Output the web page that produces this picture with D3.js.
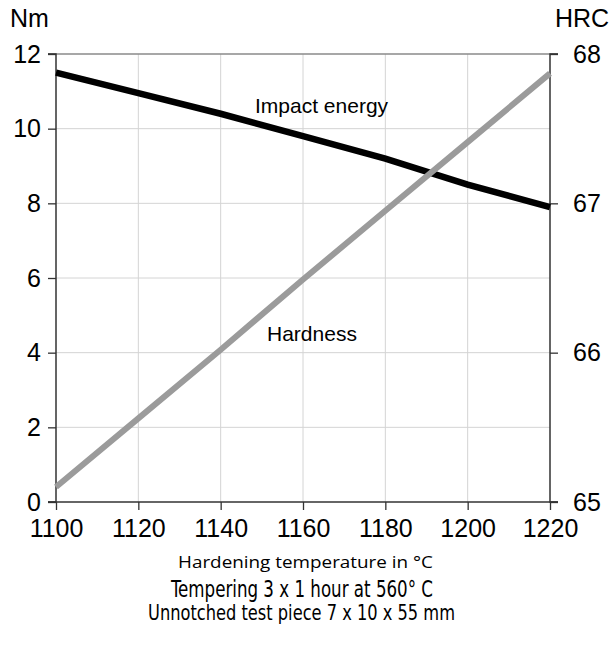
<!DOCTYPE html>
<html>
<head>
<meta charset="utf-8">
<script src="https://cdn.jsdelivr.net/npm/d3@7"></script>
<style>
  html, body { margin: 0; padding: 0; background: #fff; }
  svg text { font-family: "Liberation Sans", Arial, sans-serif; fill: #000; }
  .cond { font-family: "DejaVu Sans Condensed", "DejaVu Sans", sans-serif; font-stretch: condensed; }
  .light { font-family: "Open Sans", "Noto Sans", sans-serif; }
</style>
</head>
<body>
<script>
// temperatures along the x axis
const temps = [1100, 1120, 1140, 1160, 1180, 1200, 1220];
// impact energy, Nm (left axis)
const impact = [11.5, 10.95, 10.4, 9.8, 9.2, 8.5, 7.9];
// hardness, HRC (right axis)
const hardness = [65.1, 65.56, 66.02, 66.49, 66.95, 67.41, 67.87];
const leftTicks = [0, 2, 4, 6, 8, 10, 12];
const rightTicks = [65, 66, 67, 68];

const W = 614, H = 648;
const m = { left: 56, right: 64, top: 54, bottom: 146 };

const svg = d3.select("body").append("svg")
  .attr("width", W).attr("height", H);

const x = d3.scaleLinear().domain([1100, 1220]).range([m.left, W - m.right]);
const yL = d3.scaleLinear().domain([0, 12]).range([H - m.bottom, m.top]);
const yR = d3.scaleLinear().domain([65, 68]).range([H - m.bottom, m.top]);

// grid
svg.append("g").selectAll("line").data(temps.slice(1, -1)).join("line")
  .attr("x1", d => x(d)).attr("x2", d => x(d))
  .attr("y1", m.top).attr("y2", H - m.bottom)
  .attr("stroke", "#d4d4d4").attr("stroke-width", 1);
svg.append("g").selectAll("line").data(leftTicks.slice(1, -1)).join("line")
  .attr("x1", m.left).attr("x2", W - m.right)
  .attr("y1", d => yL(d)).attr("y2", d => yL(d))
  .attr("stroke", "#d4d4d4").attr("stroke-width", 1);

// top border
svg.append("line")
  .attr("x1", m.left - 8).attr("x2", W - m.right + 8)
  .attr("y1", m.top).attr("y2", m.top)
  .attr("stroke", "#8a8a8a").attr("stroke-width", 1.3);

// axes
const axL = d3.axisLeft(yL).tickValues(leftTicks).tickSize(8).tickPadding(7);
const axR = d3.axisRight(yR).tickValues(rightTicks).tickSize(8).tickPadding(15).tickFormat(d3.format("d"));
const axB = d3.axisBottom(x).tickValues(temps).tickSize(8).tickPadding(9).tickFormat(d3.format("d"));

const styleAxis = (g) => {
  g.select(".domain").attr("stroke", "#333").attr("stroke-width", 1.5);
  g.selectAll(".tick line").attr("stroke", "#333").attr("stroke-width", 1.3);
  g.selectAll("text").attr("font-size", 25).attr("font-family", "Liberation Sans, Arial, sans-serif").attr("fill", "#000");
};

svg.append("g").attr("transform", `translate(${m.left},0)`).call(axL).call(styleAxis)
  .call(g => g.select(".domain").attr("d", `M-8,${m.top}H0V${H - m.bottom}H-8`));
svg.append("g").attr("transform", `translate(${W - m.right},0)`).call(axR).call(styleAxis)
  .call(g => g.select(".domain").attr("d", `M8,${m.top}H0V${H - m.bottom}H8`));
svg.append("g").attr("transform", `translate(0,${H - m.bottom})`).call(axB).call(styleAxis)
  .call(g => g.select(".domain").attr("d", `M${m.left - 8},0H${W - m.right + 8}`));

// lines
const lineL = d3.line().x((d, i) => x(temps[i])).y(d => yL(d));
const lineR = d3.line().x((d, i) => x(temps[i])).y(d => yR(d));

svg.append("path").datum(impact).attr("d", lineL)
  .attr("fill", "none").attr("stroke", "#000").attr("stroke-width", 6.5);
svg.append("path").datum(hardness).attr("d", lineR)
  .attr("fill", "none").attr("stroke", "#9b9b9b").attr("stroke-width", 6);

// labels
svg.append("text").attr("x", 255).attr("y", 113).attr("font-size", 21).text("Impact energy");
svg.append("text").attr("x", 267).attr("y", 341).attr("font-size", 21).text("Hardness");
svg.append("text").attr("x", 10).attr("y", 27).attr("font-size", 25).text("Nm");
svg.append("text").attr("x", 555).attr("y", 27).attr("font-size", 25).text("HRC");

// notes under the axis, squeezed to the condensed look of the original
const note = (cls, txt, x0, y0, size, len, weight) =>
  svg.append("text").attr("class", cls).attr("x", x0).attr("y", y0)
    .attr("font-size", size).attr("font-weight", weight)
    .attr("textLength", len).attr("lengthAdjust", "spacingAndGlyphs")
    .text(txt);

note("light", "Hardening temperature in °C", 178, 568, 16.5, 255, 400).attr("fill", "#111");
note("cond", "Tempering 3 x 1 hour at 560° C", 171, 597, 23, 262, 300);
note("cond", "Unnotched test piece 7 x 10 x 55 mm", 148, 620, 22, 307, 300);
</script>
</body>
</html>
